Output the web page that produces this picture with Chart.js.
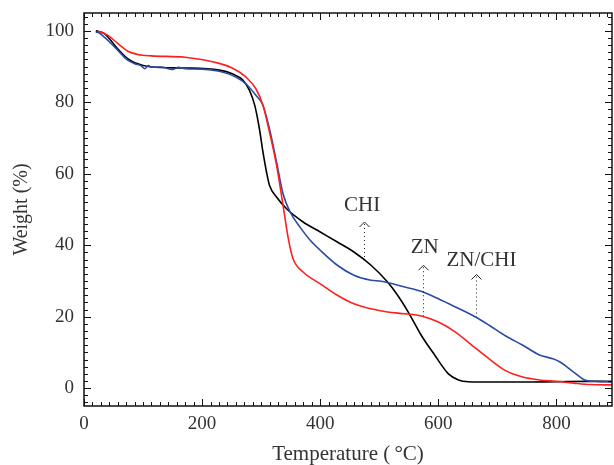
<!DOCTYPE html>
<html>
<head>
<meta charset="utf-8">
<script src="https://cdn.jsdelivr.net/npm/chart.js@4/dist/chart.umd.min.js"></script>
<style>
  html, body { margin: 0; padding: 0; background: #fff; }
  #wrap { width: 614px; height: 465px; }
</style>
</head>
<body>
<div id="wrap"><canvas id="tga" width="614" height="465"></canvas></div>
<script>
const FONT = '"Liberation Serif", "DejaVu Serif", serif';

// TGA curves: temperature (°C) and remaining weight (%)
const chiTemp = [20, 34, 57, 74, 86, 114, 171, 229, 251, 269, 280, 289, 297, 303, 309, 314, 326, 343, 371, 400, 429, 457, 486, 514, 531, 549, 571, 594, 617, 634, 651, 686, 743, 800, 857, 894];
const chiWeight = [100, 99.3, 95, 92.2, 91.1, 89.9, 89.6, 89, 88, 86.2, 83.4, 79.2, 72.6, 66.1, 60.5, 56.8, 53.5, 50.2, 46.5, 43.7, 40.9, 38.1, 34.4, 29.7, 26, 21.3, 14.8, 9.2, 4.0, 2.3, 1.8, 1.7, 1.7, 1.8, 1.9, 1.9];

const znTemp = [23, 40, 57, 74, 91, 114, 171, 229, 251, 274, 291, 303, 314, 326, 337, 346, 354, 371, 400, 429, 457, 486, 514, 543, 571, 600, 629, 657, 686, 714, 743, 771, 800, 829, 857, 894];
const znWeight = [100, 98.8, 96.5, 94.3, 93.4, 93, 92.6, 90.9, 89.6, 87.1, 83.8, 79.2, 71.7, 62.4, 51.2, 41.8, 36.2, 32.5, 29.2, 26, 23.6, 22.2, 21.3, 20.8, 20.2, 18.5, 15.7, 12, 8.2, 4.9, 3.1, 2.3, 1.9, 1.4, 1.0, 0.9];

const znChiTemp = [20, 26, 34, 45, 57, 74, 86, 97, 103, 109, 114, 130, 150, 160, 171, 200, 229, 257, 274, 291, 303, 314, 326, 337, 349, 366, 383, 400, 429, 457, 486, 503, 543, 571, 600, 629, 663, 686, 714, 743, 771, 794, 806, 829, 851, 869, 894];
const znChiWeight = [99.7, 99.4, 98.3, 96.6, 94.6, 91.8, 90.8, 90.2, 89.4, 90.3, 89.8, 89.9, 89.2, 89.8, 89.4, 89.3, 88.7, 87.1, 85.2, 82, 79.2, 72.6, 63.3, 54.4, 49.3, 45.0, 41.4, 38.6, 34.4, 31.6, 30.2, 29.9, 28.3, 27.1, 25, 22.7, 19.9, 17.6, 14.6, 12, 9.3, 8.2, 7.3, 4.5, 2.1, 1.9, 1.7];

const xTicks = [0, 200, 400, 600, 800];
const yTicks = [0, 20, 40, 60, 80, 100];

// curve labels: text, arrow x, arrow tip, arrow foot (on the curve), text position
const labelNames = ['CHI', 'ZN', 'ZN/CHI'];
const labelArrowX = [474, 574, 663];
const labelTipY = [46.5, 34.4, 31.8];
const labelFootY = [35.8, 20.2, 19.9];
const labelTextX = [471, 577, 673];
const labelTextY = [51, 39.5, 35.8];

const toPoints = (xs, ys) => xs.map((v, i) => ({ x: v, y: ys[i] }));

// box frame with inward minor/major ticks on all four sides
const frameTicks = {
  id: 'frameTicks',
  afterDraw(chart) {
    const { ctx, chartArea: a, scales: { x, y } } = chart;
    ctx.save();
    ctx.strokeStyle = '#111';
    ctx.lineWidth = 1.5;
    ctx.strokeRect(a.left, a.top, a.right - a.left, a.bottom - a.top);
    ctx.lineWidth = 1;
    ctx.beginPath();
    const xStep = 200 / 14;
    for (let i = 0; i * xStep <= x.max; i++) {
      const px = Math.round(x.getPixelForValue(i * xStep)) + 0.5;
      const len = i % 14 === 0 ? 7 : 4;
      ctx.moveTo(px, a.bottom); ctx.lineTo(px, a.bottom - len);
      ctx.moveTo(px, a.top); ctx.lineTo(px, a.top + len);
    }
    const yStep = 2;
    for (let v = -4; v <= y.max; v += yStep) {
      const py = Math.round(y.getPixelForValue(v)) + 0.5;
      const len = v % 20 === 0 ? 7 : 4;
      ctx.moveTo(a.left, py); ctx.lineTo(a.left + len, py);
      ctx.moveTo(a.right, py); ctx.lineTo(a.right - len, py);
    }
    ctx.stroke();
    ctx.restore();
  }
};

const curveLabels = {
  id: 'curveLabels',
  afterDatasetsDraw(chart) {
    const { ctx, scales: { x, y } } = chart;
    ctx.save();
    ctx.strokeStyle = '#222';
    ctx.fillStyle = '#333';
    ctx.lineWidth = 1;
    ctx.font = '21px ' + FONT;
    ctx.textAlign = 'center';
    ctx.textBaseline = 'middle';
    labelNames.forEach((name, i) => {
      const ax = Math.round(x.getPixelForValue(labelArrowX[i])) + 0.5;
      const tip = y.getPixelForValue(labelTipY[i]);
      const foot = y.getPixelForValue(labelFootY[i]);
      ctx.setLineDash([1, 3]);
      ctx.beginPath();
      ctx.moveTo(ax, tip + 2);
      ctx.lineTo(ax, foot);
      ctx.stroke();
      ctx.setLineDash([]);
      ctx.beginPath();
      ctx.moveTo(ax - 5, tip + 5);
      ctx.lineTo(ax, tip);
      ctx.lineTo(ax + 5, tip + 5);
      ctx.stroke();
      ctx.fillText(name, x.getPixelForValue(labelTextX[i]), y.getPixelForValue(labelTextY[i]));
    });
    ctx.restore();
  }
};

const line = (pts, color) => ({
  data: pts,
  borderColor: color,
  borderWidth: 1.6,
  pointRadius: 0,
  cubicInterpolationMode: 'monotone',
  fill: false,
});

new Chart(document.getElementById('tga'), {
  type: 'line',
  data: {
    datasets: [
      line(toPoints(znTemp, znWeight), '#ff1f1f'),
      line(toPoints(znChiTemp, znChiWeight), '#2a4ba6'),
      line(toPoints(chiTemp, chiWeight), '#000000'),
    ],
  },
  options: {
    responsive: false,
    animation: false,
    layout: { padding: { top: 13, right: 2, left: 0, bottom: 0 } },
    plugins: { legend: { display: false }, tooltip: { enabled: false } },
    scales: {
      x: {
        type: 'linear',
        min: 0,
        max: 894,
        grid: { display: false, drawTicks: false },
        border: { display: false },
        afterBuildTicks: (s) => { s.ticks = xTicks.map((v) => ({ value: v })); },
        afterFit: (s) => { s.height = 59; s.paddingLeft = 0; s.paddingRight = 0; },
        ticks: { color: '#333', padding: 7, font: { family: FONT, size: 19 }, maxRotation: 0 },
        title: { display: true, text: 'Temperature (\u2009°C)', color: '#333', padding: { top: 0, bottom: 0 }, font: { family: FONT, size: 21, lineHeight: 1 } },
      },
      y: {
        min: -5,
        max: 105,
        grid: { display: false, drawTicks: false },
        border: { display: false },
        afterBuildTicks: (s) => { s.ticks = yTicks.map((v) => ({ value: v })); },
        afterFit: (s) => { s.width = 84; s.paddingTop = 0; s.paddingBottom = 0; },
        ticks: { color: '#333', padding: 10, font: { family: FONT, size: 19 } },
        title: { display: true, text: 'Weight (%)', color: '#333', padding: { top: 12, bottom: 0 }, font: { family: FONT, size: 20, lineHeight: 1 } },
      },
    },
  },
  plugins: [frameTicks, curveLabels],
});
</script>
</body>
</html>
